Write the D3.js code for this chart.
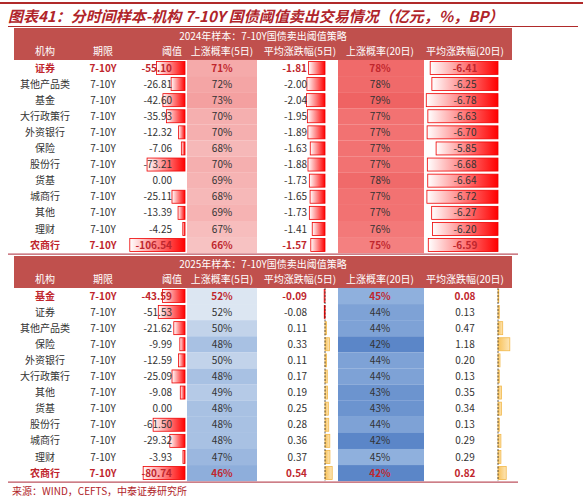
<!DOCTYPE html><html><head><meta charset="utf-8"><script src="https://cdn.jsdelivr.net/npm/d3@7"></script>
<style>body{margin:0;background:#fff}</style></head><body><svg id="c" width="583" height="500"></svg><script>
const cols=["机构","期限","阈值","上涨概率(5日)","平均涨跌幅(5日)","上涨概率(20日)","平均涨跌幅(20日)"];
const inst24=["证券","其他产品类","基金","大行政策行","外资银行","保险","股份行","货基","城商行","其他","理财","农商行"];
const thr24=[-55.10,-26.81,-42.60,-35.93,-12.32,-7.06,-73.21,0.00,-25.11,-13.39,-4.25,-106.54];
const p5_24=[71,72,73,70,70,68,70,69,68,69,67,66];
const a5_24=[-1.81,-2.00,-2.04,-1.95,-1.89,-1.63,-1.88,-1.73,-1.65,-1.73,-1.41,-1.57];
const p20_24=[78,78,79,77,77,77,77,78,77,77,76,75];
const a20_24=[-6.41,-6.25,-6.78,-6.63,-6.70,-5.85,-6.68,-6.64,-6.72,-6.27,-6.20,-6.59];
const inst25=["基金","证券","其他产品类","保险","外资银行","大行政策行","其他","货基","股份行","城商行","理财","农商行"];
const thr25=[-43.59,-51.53,-21.62,-9.99,-12.59,-25.09,-9.08,0.00,-61.50,-29.32,-3.93,-80.74];
const p5_25=[52,52,50,48,50,48,49,48,48,48,47,46];
const a5_25=[-0.09,-0.08,0.11,0.33,0.11,0.17,0.19,0.25,0.28,0.36,0.37,0.54];
const p20_25=[45,44,44,42,44,44,43,43,44,42,45,42];
const a20_25=[0.08,0.13,0.47,1.18,0.20,0.13,0.35,0.34,0.13,0.29,0.29,0.82];

const svg=d3.select("#c");
const dark="#c0504d", txtRed="#c0262d";
const F="'Noto Sans CJK SC',sans-serif";
const defs=svg.append("defs");
function grad(id,c1,c2){const g=defs.append("linearGradient").attr("id",id);g.append("stop").attr("offset","0").attr("stop-color",c1);g.append("stop").attr("offset","1").attr("stop-color",c2);}
grad("rg","#fff","#f00");grad("yg","#f8c25a","#fde6b8");
svg.append("rect").attr("x",0).attr("y",2).attr("width",583).attr("height",2).attr("fill","#b02a2a");
svg.append("text").attr("x",8).attr("y",22).attr("font-family",F).attr("font-size",15).attr("font-style","italic").attr("font-weight","bold").attr("fill","#b0242a").text("图表41：分时间样本-机构 7-10Y 国债阈值卖出交易情况（亿元，%，BP）");
svg.append("rect").attr("x",8).attr("y",26).attr("width",570).attr("height",1).attr("fill","#b02a2a");
const L=14,R=512;
const xThr=d3.scaleLinear().domain([-110,0]).range([128,185]);
const xA5=d3.scaleLinear().domain([-2.1,0,0.6]).range([306,325,333]);
const xA20=d3.scaleLinear().domain([-6.9,0,1.2]).range([425,498,510]);
function table(y0,title,year,inst,thr,p5,a5,p20,a20){
  const band=svg.append("g");
  band.append("rect").attr("x",L).attr("y",y0).attr("width",R-L).attr("height",32).attr("fill",dark);
  band.append("text").attr("x",(L+R)/2).attr("y",y0+12).attr("text-anchor","middle").attr("font-family",F).attr("font-size",10).attr("fill","#fff").text(title);
  const hx=[45,103,172,222,300,380,465];
  cols.forEach((c,i)=>band.append("text").attr("x",hx[i]).attr("y",y0+27).attr("text-anchor","middle").attr("font-family",F).attr("font-size",10).attr("fill","#fff").text(c));
  const ys=d3.scaleLinear().domain([0,11]).range([y0+40,y0+40+11*16.1]);
  const c5=year==2024?d3.scaleLinear().domain([66,73]).range(["#f7c2c2","#f4a0a0"]):d3.scaleLinear().domain([46,52]).range(["#8eaedb","#dce6f2"]);
  const c20=year==2024?d3.scaleLinear().domain([75,79]).range(["#f48080","#ef6363"]):d3.scaleLinear().domain([42,45]).range(["#5b86c8","#8fb0dd"]);
  const g=svg.append("g");
  inst.forEach((n,i)=>{
    const y=ys(i), top=y-8.05, red=(i==0||i==11);
    g.append("rect").attr("x",187).attr("y",top).attr("width",70).attr("height",16.2).attr("fill",c5(p5[i]));
    g.append("rect").attr("x",338).attr("y",top).attr("width",86).attr("height",16.2).attr("fill",c20(p20[i]));
    if(thr[i]<0)g.append("rect").attr("x",xThr(thr[i])).attr("y",top+1.5).attr("width",xThr(0)-xThr(thr[i])).attr("height",13).attr("fill","url(#rg)").attr("stroke","#e00").attr("stroke-width",0.8);
    const bar=(sc,v)=>{const a=sc(Math.min(v,0)),b=sc(Math.max(v,0));
      g.append("rect").attr("x",a).attr("y",top+1.5).attr("width",Math.max(b-a,0.8)).attr("height",13).attr("fill",v<0?"url(#rg)":"url(#yg)").attr("stroke",v<0?"#e00":"#f2b84a").attr("stroke-width",0.8);};
    bar(xA5,a5[i]);bar(xA20,a20[i]);
    const t=(x,s,anc)=>g.append("text").attr("x",x).attr("y",y+3.5).attr("text-anchor",anc).attr("font-family",F).attr("font-size",10).attr("font-weight",red?"bold":"normal").attr("fill",red?txtRed:"#333").text(s);
    t(45,n,"middle");t(103,"7-10Y","middle");t(172,thr[i].toFixed(2),"end");t(222,p5[i]+"%","middle");
    t(307,a5[i].toFixed(2),"end");t(380,p20[i]+"%","middle");t(465,a20[i].toFixed(2),"middle");
  });
  if(year==2025){[325,498].forEach(x=>g.append("line").attr("x1",x).attr("x2",x).attr("y1",ys(0)-8).attr("y2",ys(11)+8).attr("stroke","#333").attr("stroke-width",0.8).attr("stroke-dasharray","2,1.5"));}
  svg.append("rect").attr("x",L-6).attr("y",ys(11)+8.3).attr("width",R-L+12).attr("height",1.5).attr("fill","#c8707a");
}
table(28,"2024年样本：7-10Y国债卖出阈值策略",2024,inst24,thr24,p5_24,a5_24,p20_24,a20_24);
table(256,"2025年样本：7-10Y国债卖出阈值策略",2025,inst25,thr25,p5_25,a5_25,p20_25,a20_25);
svg.append("text").attr("x",12).attr("y",495).attr("font-family",F).attr("font-size",10).attr("fill","#b0242a").text("来源：WIND，CEFTS，中泰证券研究所");
</script></body></html>
